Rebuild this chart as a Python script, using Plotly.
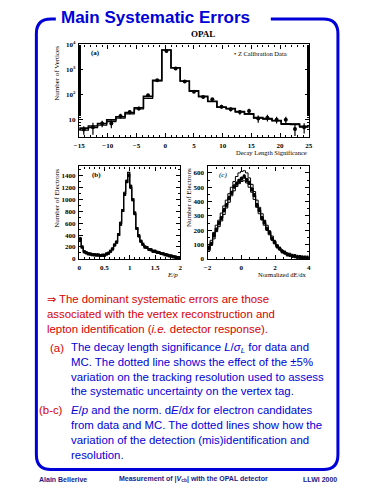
import plotly.graph_objects as go

# page body has an 8px margin, so the figure is drawn 8px in from the window corner
OFF = 8
W, H = 375 - OFF, 500 - OFF

# ---------------- data ----------------
# (a) decay length significance, bins of width 1.6 from -15 to 25
A_START, A_WIDTH = -15.0, 1.6
mc_a = [4.6, 5.6, 7.0, 9.8, 13, 19, 30, 85, 370, 6000, 1170, 350, 140, 85, 54, 32, 28, 21, 17, 12, 11, 9.3, 6.9, 6.5, 5.4]
mc_a_var = [3.8, 4.8, 6.0, 8.3, 11.5, 17, 27, 70, 350, 6000, 1150, 340, 135, 82, 52, 31, 27, 20, 16.5, 11.5, 10.5, 9.0, 6.5, 6.8, 5.0]
data_a = [4, 5, 7, 7, 14, 20, 28, 95, 370, 5500, 1100, 330, 130, 80, 65, 33, 26, 20, 22, 11, 12, 10, 10, 4.2, 5]
err_a = [1.5, 2.5, 2.0, 2.5, 3, 4, 5, 8, 20, 70, 35, 18, 12, 9, 8, 6, 5, 4.5, 5, 3.5, 3.5, 3, 3, 2, 2.2]

# (b) E/p, bins of width 0.04 from 0 to 2
B_START, B_WIDTH = 0.0, 0.04
mc_b = [340, 190, 125, 100, 88, 80, 75, 72, 68, 62, 58, 60, 65, 80, 100, 125, 170, 230, 285, 400,
        600, 800, 1100, 1280, 1450, 1200, 1000, 760, 520, 380, 300, 240, 205, 185, 165, 150, 135, 125, 115, 105,
        92, 85, 75, 65, 55, 48, 40, 32, 25, 20]
mc_b_var = [360, 200, 130, 105, 90, 82, 77, 73, 70, 64, 60, 62, 68, 84, 105, 132, 180, 240, 300, 420,
            620, 820, 1120, 1300, 1420, 1180, 980, 740, 505, 370, 292, 235, 200, 180, 160, 146, 132, 122, 112, 102,
            90, 82, 73, 63, 53, 46, 39, 31, 24, 19]
data_b = [330, 200, 120, 105, 85, 82, 72, 70, 66, 64, 56, 62, 63, 84, 95, 130, 165, 235, 280, 410,
          580, 810, 1080, 1300, 1400, 1220, 990, 770, 510, 390, 295, 245, 200, 190, 160, 152, 130, 128, 112, 108,
          90, 88, 72, 66, 53, 50, 38, 33, 24, 21]

# (c) normalised dE/dx, bins of width 0.15 from -2 to 4
C_START, C_WIDTH = -2.0, 0.15
mc_c = [70, 110, 160, 210, 245, 290, 335, 380, 420, 465, 500, 530, 550, 565, 570, 555, 525, 490, 440, 380,
        335, 290, 250, 215, 180, 145, 115, 90, 70, 55, 42, 33, 27, 22, 18, 15, 12, 10, 9, 8]
mc_c_hi = [90, 130, 185, 235, 270, 320, 370, 410, 455, 500, 540, 575, 600, 610, 615, 600, 565, 520, 470, 410,
           360, 315, 270, 235, 195, 160, 125, 98, 76, 60, 46, 36, 29, 24, 19, 16, 13, 11, 10, 9]
mc_c_lo = [55, 95, 140, 190, 225, 265, 310, 355, 395, 440, 475, 505, 525, 540, 545, 530, 500, 465, 415, 360,
           315, 272, 235, 200, 168, 135, 106, 83, 64, 50, 38, 30, 25, 20, 16, 13, 11, 9, 8, 7]
data_c = [75, 105, 165, 205, 250, 285, 340, 375, 425, 460, 505, 525, 545, 560, 575, 550, 530, 485, 445, 375,
          340, 285, 255, 210, 185, 140, 118, 88, 72, 52, 44, 32, 28, 21, 19, 14, 13, 10, 9, 8]

BLUE = "#0000d8"
RED = "#d80000"
NAVY = "#1a1a8a"


def px(x):
    return (x - OFF) / W


def py(y):
    return 1 - (y - OFF) / H


def edges(start, width, n):
    return [start + width * i for i in range(n + 1)]


def step_xy(start, width, vals):
    e = edges(start, width, len(vals))
    return e, list(vals) + [vals[-1]]


def centers(start, width, n):
    return [start + width * (i + 0.5) for i in range(n)]


fig = go.Figure()

# ---- panel (a)
for vals, lw in [(mc_a, 1.6), (mc_a_var, 1.2)]:
    xs, ys = step_xy(A_START, A_WIDTH, vals)
    fig.add_trace(go.Scatter(x=xs, y=ys, mode="lines", line=dict(shape="hv", color="black", width=lw),
                             xaxis="x", yaxis="y", showlegend=False, hoverinfo="skip"))
fig.add_trace(go.Scatter(x=centers(A_START, A_WIDTH, len(data_a)), y=data_a, mode="markers",
                         marker=dict(color="black", size=4, symbol="circle"),
                         error_y=dict(type="data", array=err_a, color="black", thickness=1.2, width=0),
                         xaxis="x", yaxis="y", showlegend=False))

# ---- panel (b)
for vals, lw in [(mc_b, 1.4), (mc_b_var, 1.0)]:
    xs, ys = step_xy(B_START, B_WIDTH, vals)
    fig.add_trace(go.Scatter(x=xs, y=ys, mode="lines", line=dict(shape="hv", color="black", width=lw),
                             xaxis="x2", yaxis="y2", showlegend=False, hoverinfo="skip"))
fig.add_trace(go.Scatter(x=centers(B_START, B_WIDTH, len(data_b)), y=data_b, mode="markers",
                         marker=dict(color="black", size=3, symbol="square"),
                         error_y=dict(type="constant", value=25, color="black", thickness=2, width=0),
                         xaxis="x2", yaxis="y2", showlegend=False))

# ---- panel (c)
for vals, lw in [(mc_c, 1.2), (mc_c_hi, 1.0), (mc_c_lo, 1.0)]:
    xs, ys = step_xy(C_START, C_WIDTH, vals)
    fig.add_trace(go.Scatter(x=xs, y=ys, mode="lines", line=dict(shape="hv", color="black", width=lw),
                             xaxis="x3", yaxis="y3", showlegend=False, hoverinfo="skip"))
fig.add_trace(go.Scatter(x=centers(C_START, C_WIDTH, len(data_c)), y=data_c, mode="markers",
                         marker=dict(color="black", size=3, symbol="square"),
                         error_y=dict(type="constant", value=15, color="black", thickness=2, width=0),
                         xaxis="x3", yaxis="y3", showlegend=False))

tickfont = dict(family="Liberation Serif", size=7, color="black", weight="bold")
axis_common = dict(showline=True, linecolor="black", linewidth=1.4, mirror="ticks", ticks="inside",
                   ticklen=4, tickwidth=1, tickcolor="black", showgrid=False, zeroline=False,
                   tickfont=tickfont, ticklabelstandoff=1)

fig.update_layout(
    width=W, height=H, margin=dict(l=0, r=0, t=0, b=0),
    paper_bgcolor="white", plot_bgcolor="white",
    xaxis=dict(domain=[px(75), px(311)], range=[-15, 25], anchor="y", tickvals=[-15, -10, -5, 0, 5, 10, 15, 20, 25],
               minor=dict(ticks="inside", ticklen=2, dtick=1, tickcolor="black"), **axis_common),
    yaxis=dict(domain=[py(135), py(41)], type="log", range=[0.31, 4], anchor="x",
               tickvals=[10, 100, 1000, 10000], ticktext=["10", "10<sup>2</sup>", "10<sup>3</sup>", "10<sup>4</sup>"],
               minor=dict(ticks="inside", ticklen=2, tickcolor="black"), **axis_common),
    xaxis2=dict(domain=[px(75), px(179)], range=[0, 2], anchor="y2", tickvals=[0, 0.5, 1, 1.5, 2],
                ticktext=["0", "0.5", "1", "1.5", "2"],
                minor=dict(ticks="inside", ticklen=2, dtick=0.1, tickcolor="black"), **axis_common),
    yaxis2=dict(domain=[py(259), py(165)], range=[0, 1550], anchor="x2", tickvals=[0, 200, 400, 600, 800, 1000, 1200, 1400],
                minor=dict(ticks="inside", ticklen=2, dtick=100, tickcolor="black"), **axis_common),
    xaxis3=dict(domain=[px(207), px(311)], range=[-2, 4], anchor="y3", tickvals=[-2, 0, 2, 4],
                minor=dict(ticks="inside", ticklen=2, dtick=0.5, tickcolor="black"), **axis_common),
    yaxis3=dict(domain=[py(259), py(165)], range=[0, 645], anchor="x3", tickvals=[0, 100, 200, 300, 400, 500, 600],
                minor=dict(ticks="inside", ticklen=2, dtick=50, tickcolor="black"), **axis_common),
)

# ---- frame (rounded blue box with gap for the title)
L, R, T, B, r = 31, 341, 15, 473, 15


def P(x, y):
    return f"{px(x):.5f},{py(y):.5f}"


path = (f"M {P(51, T)} L {P(L + r, T)} Q {P(L, T)} {P(L, T + r)} L {P(L, B - r)} Q {P(L, B)} {P(L + r, B)} "
        f"L {P(R - r, B)} Q {P(R, B)} {P(R, B - r)} L {P(R, T + r)} Q {P(R, T)} {P(R - r, T)} L {P(272, T)}")
fig.add_shape(type="path", path=path, xref="paper", yref="paper", line=dict(color=BLUE, width=3))

ann = []


def text(x, y, s, size=12, color=BLUE, xanchor="left", family="Liberation Sans", weight="normal", angle=0,
         yanchor="middle"):
    ann.append(dict(x=px(x), y=py(y), xref="paper", yref="paper", text=s, showarrow=False,
                    xanchor=xanchor, yanchor=yanchor, textangle=angle,
                    font=dict(family=family, size=size, color=color, weight=weight)))


text(54, 14, "Main Systematic Errors", size=17, weight="bold")
text(202, 30, "OPAL", size=9, color="black", xanchor="center", family="Liberation Serif", weight="bold")

# panel labels and axis titles
sf = "Liberation Serif"
text(85, 50, "(a)", size=7, color="black", family=sf, weight="bold")
text(232, 50, "\u2022 Z Calibration Data", size=6.5, color="black", family=sf)
text(52, 40, "Number of Vertices", size=7, color="black", family=sf, angle=-90, xanchor="center", yanchor="top")
text(311, 151, "Decay Length Significance", size=6.5, color="black", family=sf, xanchor="right")

text(86, 174, "(b)", size=7, color="black", family=sf, weight="bold")
text(52, 165, "Number of Electrons", size=7, color="black", family=sf, angle=-90, xanchor="center", yanchor="top")
text(179, 275, "<i>E/p</i>", size=7, color="black", family=sf, xanchor="right")

text(217, 174, "<i>(c)</i>", size=7, color="black", family=sf)
text(188, 165, "Number of Electrons", size=7, color="black", family=sf, angle=-90, xanchor="center", yanchor="top")
text(311, 275, "Normalized dE/dx", size=6.5, color="black", family=sf, xanchor="right")

# body text
fs = 11.4
text(40, 300, "\u21d2 The dominant systematic errors are those", size=fs, color=RED)
text(40, 315, "associated with the vertex reconstruction and", size=fs, color=RED)
text(40, 330, "lepton identification (<i>i.e.</i> detector response).", size=fs, color=RED)

text(43, 350, "(a)", size=fs, color=RED)
text(65, 350, "The decay length significance <i>L</i>/<i>\u03c3</i><sub><i>L</i></sub> for data and", size=fs)
text(65, 364, "MC. The dotted line shows the effect of the \u00b15%", size=fs)
text(65, 379, "variation on the tracking resolution used to assess", size=fs)
text(65, 393, "the systematic uncertainty on the vertex tag.", size=fs)

text(32, 413, "(b-c)", size=fs, color=RED)
text(65, 413, "<i>E</i>/<i>p</i> and the norm. d<i>E</i>/d<i>x</i> for electron candidates", size=fs)
text(65, 428, "from data and MC. The dotted lines show how the", size=fs)
text(65, 443, "variation of the detection (mis)identification and", size=fs)
text(65, 458, "resolution.", size=fs)

# footer
text(32, 483, "Alain Bellerive", size=7, color=NAVY, weight="bold")
text(193, 483, "Measurement of |<i>V</i><sub>cb</sub>| with the OPAL detector", size=7, color=NAVY, weight="bold",
     xanchor="center")
text(342, 483, "LLWI 2000", size=7, color=NAVY, weight="bold", xanchor="right")

fig.update_layout(annotations=ann)
fig.write_html("out.html", config={"displayModeBar": False})
